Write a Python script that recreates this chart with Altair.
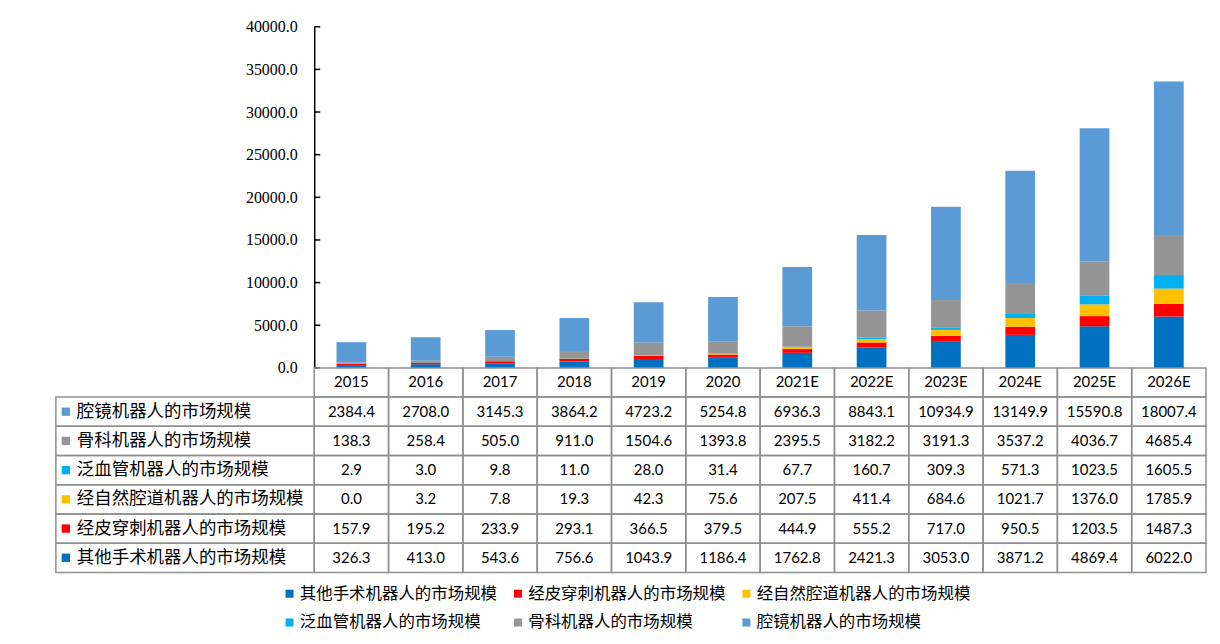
import altair as alt
import pandas as pd

years = ["2015", "2016", "2017", "2018", "2019", "2020", "2021E", "2022E",
         "2023E", "2024E", "2025E", "2026E"]

# stacking order (bottom -> top)
series = ["其他手术机器人的市场规模", "经皮穿刺机器人的市场规模", "经自然腔道机器人的市场规模",
          "泛血管机器人的市场规模", "骨科机器人的市场规模", "腔镜机器人的市场规模"]
colors = ["#0070C0", "#FF0000", "#FFC000", "#00B0F0", "#959595", "#5B9BD5"]

other = [326.3, 413.0, 543.6, 756.6, 1043.9, 1186.4, 1762.8, 2421.3, 3053.0, 3871.2, 4869.4, 6022.0]
percutaneous = [157.9, 195.2, 233.9, 293.1, 366.5, 379.5, 444.9, 555.2, 717.0, 950.5, 1203.5, 1487.3]
natural = [0.0, 3.2, 7.8, 19.3, 42.3, 75.6, 207.5, 411.4, 684.6, 1021.7, 1376.0, 1785.9]
vascular = [2.9, 3.0, 9.8, 11.0, 28.0, 31.4, 67.7, 160.7, 309.3, 571.3, 1023.5, 1605.5]
ortho = [138.3, 258.4, 505.0, 911.0, 1504.6, 1393.8, 2395.5, 3182.2, 3191.3, 3537.2, 4036.7, 4685.4]
laparo = [2384.4, 2708.0, 3145.3, 3864.2, 4723.2, 5254.8, 6936.3, 8843.1, 10934.9, 13149.9, 15590.8, 18007.4]

y_ticks = [0, 5000, 10000, 15000, 20000, 25000, 30000, 35000, 40000]

values = [other, percutaneous, natural, vascular, ortho, laparo]
rows = []
for si, (name, vals) in enumerate(zip(series, values)):
    for y, v in zip(years, vals):
        rows.append({"year": y, "series": name, "value": v, "ord": si,
                     "label": f"{v:.1f}"})
df = pd.DataFrame(rows)

table_rows = ["header"] + series[::-1]

color_scale = alt.Scale(domain=series, range=colors)
CJK = "Noto Sans CJK SC"
LINE = "#8f8f8f"

# ---------------- top: stacked bars ----------------
x_top = alt.X("year:N", scale=alt.Scale(domain=years, paddingInner=0.6, paddingOuter=0.3), axis=None)
bars = alt.Chart(df).mark_bar().encode(
    x=x_top,
    y=alt.Y("value:Q", stack="zero",
            scale=alt.Scale(domain=[0, 40000], nice=False),
            axis=alt.Axis(values=y_ticks, format=".1f", title=None, grid=False,
                          tickSize=0, labelPadding=17, labelFont="Liberation Serif",
                          labelFontSize=16, labelColor="black", domainColor="black",
                          domainWidth=1.5)),
    color=alt.Color("series:N", scale=color_scale, legend=None),
    order=alt.Order("ord:Q", sort="ascending"),
)
ticks = alt.Chart(pd.DataFrame({"t": y_ticks})).mark_rule(color="black", strokeWidth=1.5).encode(
    y=alt.Y("t:Q"), x=alt.value(0), x2=alt.value(6)
)
top = alt.layer(bars, ticks).properties(width=894, height=342)

# ---------------- bottom: data table ----------------
x_tab = alt.X("year:N", scale=alt.Scale(domain=years, paddingInner=0, paddingOuter=0), axis=None)
y_tab = alt.Y("row:N", scale=alt.Scale(domain=table_rows, paddingInner=0, paddingOuter=0), axis=None)

cells = pd.DataFrame([{"year": y, "row": r} for r in table_rows for y in years])
cell_rects = alt.Chart(cells).mark_rect(fillOpacity=0, stroke=LINE, strokeWidth=1.5).encode(
    x=x_tab, y=y_tab)

lab_df = pd.DataFrame({"row": series[::-1], "series": series[::-1]})
label_rects = alt.Chart(lab_df).mark_rect(fillOpacity=0, stroke=LINE, strokeWidth=1.5).encode(
    x=alt.value(-259), x2=alt.value(0), y=y_tab)

df_t = df.rename(columns={"series": "row"})
value_text = alt.Chart(df_t).mark_text(font="Lato", fontSize=15, color="black").encode(
    x=x_tab, y=y_tab, text="label:N")

hdr = pd.DataFrame({"year": years, "row": ["header"] * len(years)})
header_text = alt.Chart(hdr).mark_text(font="Lato", fontSize=15, color="black").encode(
    x=x_tab, y=y_tab, text="year:N")

squares = alt.Chart(lab_df).mark_square(size=70, opacity=1, filled=True).encode(
    x=alt.value(-249), y=y_tab,
    color=alt.Color("series:N", scale=color_scale,
                    legend=alt.Legend(orient="none", legendX=-33, legendY=218, columns=3,
                                      direction="horizontal",
                                      title=None, symbolType="square", symbolSize=64,
                                      symbolStrokeWidth=0, labelFont=CJK, labelFontSize=16.5,
                                      labelColor="black", labelOffset=2, columnPadding=12,
                                      rowPadding=12, labelLimit=400)),
)
row_text = alt.Chart(lab_df).mark_text(font=CJK, fontSize=17.5, align="left", color="black").encode(
    x=alt.value(-238), y=y_tab, text="row:N")

table = alt.layer(cell_rects, label_rects, value_text, header_text, squares, row_text).properties(
    width=894, height=205)

chart = alt.vconcat(top, table, spacing=0, bounds="flush").resolve_scale(
    x="independent", color="independent"
).properties(
    padding={"left": 47, "top": 10, "right": 5, "bottom": 5}
).configure_view(stroke=None)

chart.save("out.html", embed_options={"renderer": "svg", "actions": False})
